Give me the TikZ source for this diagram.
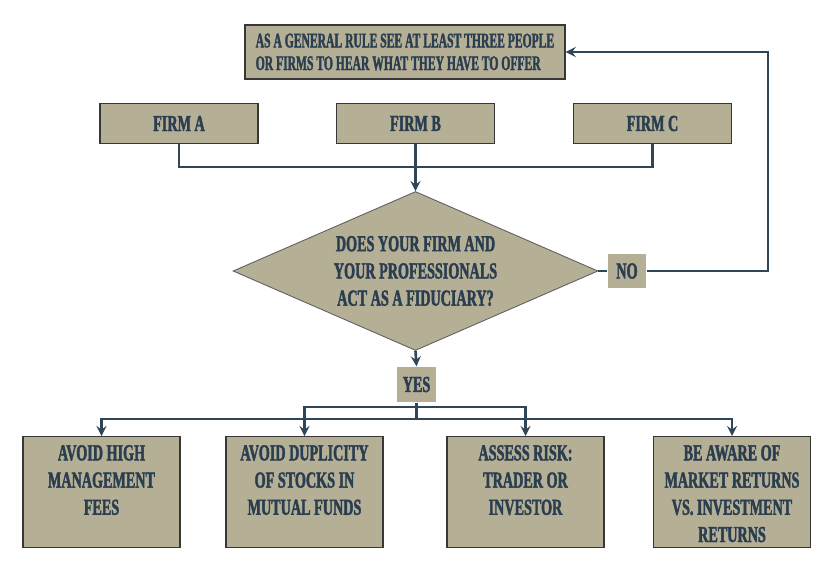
\documentclass[tikz,border=0pt]{standalone}
\usepackage{fontspec}
\usepackage{xcolor}
\usepackage{tikz}
\usetikzlibrary{shapes.geometric, arrows}

\newfontfamily\condfont[FakeStretch=0.62,FakeBold=1.8]{Liberation Serif}
\newfontfamily\rulefont[FakeStretch=0.56,FakeBold=1.6]{Liberation Serif}
\definecolor{sable}{RGB}{181,175,150}
\definecolor{encre}{RGB}{42,62,80}
\definecolor{trait}{RGB}{47,70,88}
\definecolor{bord}{RGB}{55,55,55}

\tikzstyle{box} = [rectangle,
fill=sable,
draw=bord,
line width=0.8pt,
text=encre,
text centered,
inner sep=0pt,
font=\condfont\bfseries\fontsize{13}{15.5}\selectfont]
\tikzstyle{firm} = [box, minimum width=3.16cm, minimum height=0.8cm]
\tikzstyle{rulebox} = [box, minimum width=6.4cm, minimum height=1.08cm,
align=left,
font=\rulefont\bfseries\fontsize{11.8}{12.9}\selectfont]
\tikzstyle{question} = [box, diamond, aspect=2.3, minimum width=7.3cm, minimum height=3.18cm,
draw=bord!80, line width=0.5pt, align=center]
\tikzstyle{answer} = [box, draw=none, minimum width=0.78cm, minimum height=0.7cm]
\tikzstyle{advice} = [box, minimum width=3.14cm, minimum height=2.22cm,
inner ysep=0.17cm, anchor=north]
\tikzstyle{line} = [draw=trait, line width=1.5pt]
\tikzstyle{arrow} = [line,->,>=stealth]

\newcommand{\advicetext}[1]{\parbox[c][1.88cm][t]{3.1cm}{\centering #1}}

\begin{document}
\begin{tikzpicture}[x=0.02cm,y=-0.02cm]
\useasboundingbox (0,0) rectangle (833,565);

% Regle generale en haut
\node[rulebox] (rule) at (405,52) {AS A GENERAL RULE SEE AT LEAST THREE PEOPLE\\OR FIRMS TO HEAR WHAT THEY HAVE TO OFFER};

% Les trois firmes
\node[firm] (fa) at (179,123.5) {FIRM A};
\node[firm] (fb) at (415.5,123.5) {FIRM B};
\node[firm] (fc) at (652.5,123.5) {FIRM C};

% Question centrale
\node[question] (quest) at (415.5,271) {DOES YOUR FIRM AND\\YOUR PROFESSIONALS\\ACT AS A FIDUCIARY?};

% Reponses
\node[answer] (no) at (627,271) {NO};
\node[answer] (yes) at (416.5,384.5) {YES};

% Conseils en bas
\node[advice] (avoidfees) at (101.5,436) {\advicetext{AVOID HIGH\\MANAGEMENT\\FEES}};
\node[advice] (avoiddup) at (304.5,436) {\advicetext{AVOID DUPLICITY\\OF STOCKS IN\\MUTUAL FUNDS}};
\node[advice] (assess) at (525.5,436) {\advicetext{ASSESS RISK:\\TRADER OR\\INVESTOR}};
\node[advice] (aware) at (732,436) {\advicetext{BE AWARE OF\\MARKET RETURNS\\VS. INVESTMENT\\RETURNS}};

% Points de jonction
\coordinate (join) at (415.5,167);
\coordinate (back) at (768,271);
\coordinate (splitlow) at (416.5,419);
\coordinate (splitup) at (416.5,407);

% Liaisons du haut
\draw[line] (fa.south) |- (join) -| (fc.south);
\draw[arrow] (fb.south) -- (quest.north);
\draw[line] (quest.east) -- (no.west);
\draw[arrow] (no.east) -- (back) |- (rule.east);

% Liaisons du bas
\draw[arrow] (quest.south) -- (yes.north);
\draw[line] (yes.south) -- (splitlow);
\draw[arrow] (splitlow) -| (avoidfees.north);
\draw[arrow] (splitlow) -| (aware.north);
\draw[arrow] (splitup) -| (avoiddup.north);
\draw[arrow] (splitup) -| (assess.north);

\end{tikzpicture}
\end{document}
